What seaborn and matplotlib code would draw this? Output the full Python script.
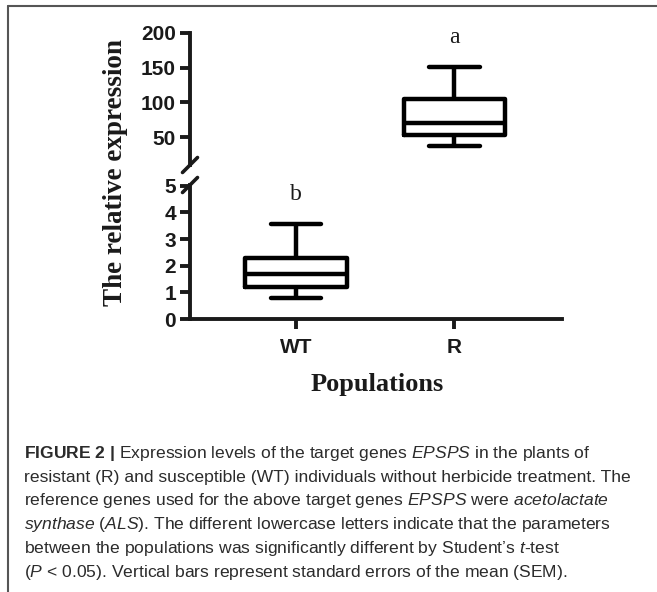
import pandas as pd
import seaborn as sns
import matplotlib
matplotlib.use("Agg")
import matplotlib.pyplot as plt
from matplotlib.lines import Line2D

# values (box = min, Q1, median, Q3, max)
populations = ["WT", "R"]
wt_expression = [0.79, 1.20, 1.69, 2.29, 3.57]
r_expression = [37, 53, 70.5, 105, 151]
upper_ticks = [50, 100, 150, 200]
lower_ticks = [0, 1, 2, 3, 4, 5]
letters = ["b", "a"]
letter_y = [4.66, 193]

caption_lines = [
    r"$\bf{FIGURE\ 2\ |}$ Expression levels of the target genes $\it{EPSPS}$ in the plants of",
    "resistant (R) and susceptible (WT) individuals without herbicide treatment. The",
    r"reference genes used for the above target genes $\it{EPSPS}$ were $\it{acetolactate}$",
    r"$\it{synthase}$ ($\it{ALS}$). The different lowercase letters indicate that the parameters",
    r"between the populations was significantly different by Student’s $\it{t}$-test",
    r"($\it{P}$ < 0.05). Vertical bars represent standard errors of the mean (SEM).",
]

df = pd.DataFrame({
    "population": ["WT"] * len(wt_expression) + ["R"] * len(r_expression),
    "expression": wt_expression + r_expression,
})

sns.set_style("ticks")
plt.rcParams["font.family"] = ["Liberation Sans", "DejaVu Sans"]
plt.rcParams["mathtext.fontset"] = "custom"
plt.rcParams["mathtext.rm"] = "Liberation Sans"
plt.rcParams["mathtext.it"] = "Liberation Sans:italic"
plt.rcParams["mathtext.bf"] = "Liberation Sans:bold"

W, H = 657, 592
fig = plt.figure(figsize=(W / 100, H / 100), dpi=100)

# broken y axis: two stacked axes
ax_top = fig.add_axes([0.2892, 0.7213, 0.5662, 0.2230])
ax_bot = fig.add_axes([0.2892, 0.4611, 0.5662, 0.2264])

for ax in (ax_top, ax_bot):
    sns.boxplot(data=df, x="population", y="expression", order=populations,
                whis=(0, 100), width=0.64, fill=False, color="black",
                linewidth=3.2, ax=ax)
    ax.set_xlim(-0.67, 1.68)
    ax.set_xlabel("")
    ax.set_ylabel("")
    for s in ("top", "right"):
        ax.spines[s].set_visible(False)
    for s in ("left", "bottom"):
        ax.spines[s].set_linewidth(2.8)
        ax.spines[s].set_color("#1a1a1a")
    ax.tick_params(axis="y", length=7, width=2.8, pad=3, colors="#1a1a1a")
    ax.patch.set_alpha(0)

ax_top.set_ylim(10, 200)
ax_top.set_yticks(upper_ticks)
ax_top.spines["bottom"].set_visible(False)
ax_top.tick_params(axis="x", bottom=False, labelbottom=False)

ax_bot.set_ylim(0, 5.03)
ax_bot.set_yticks(lower_ticks)
ax_bot.tick_params(axis="x", length=7, width=2.8, pad=7, colors="#1a1a1a")

for ax in (ax_top, ax_bot):
    for lab in ax.get_yticklabels() + ax.get_xticklabels():
        lab.set_fontsize(15)
        lab.set_fontweight("bold")
        lab.set_color("#1a1a1a")

# significance letters
ax_bot.text(0, letter_y[0], letters[0], ha="center", va="center",
            family="Liberation Serif", fontsize=17, color="#1a1a1a")
ax_top.text(1, letter_y[1], letters[1], ha="center", va="center",
            family="Liberation Serif", fontsize=17, color="#1a1a1a")

# break marks
d = 7.5
for ax, yfrac in ((ax_top, ax_top.get_position().y0), (ax_bot, ax_bot.get_position().y1)):
    x0 = ax.get_position().x0
    fig.add_artist(Line2D([x0 - d / W, x0 + d / W], [yfrac - d / H, yfrac + d / H],
                          transform=fig.transFigure, color="#1a1a1a", lw=2.6))

fig.text(0.176, 0.7086, "The relative expression", rotation=90, ha="center",
         va="center", family="Liberation Serif", fontweight="bold", fontsize=19.5,
         color="#1a1a1a")
fig.text(0.574, 1 - 391 / H, "Populations", ha="center", va="baseline",
         family="Liberation Serif", fontweight="bold", fontsize=19, color="#1a1a1a")

# caption
for i, line in enumerate(caption_lines):
    fig.text(24 / W, 1 - (458 + i * 23.7) / H, line, ha="left", va="baseline",
             fontsize=12.6, color="#2b2b2b")

# outer frame (open on right and bottom)
fig.add_artist(Line2D([8 / W, 1], [1 - 6 / H, 1 - 6 / H], transform=fig.transFigure,
                      color="#555555", lw=1.5))
fig.add_artist(Line2D([8 / W, 8 / W], [0, 1 - 6 / H], transform=fig.transFigure,
                      color="#555555", lw=1.5))

fig.savefig("out.png", dpi=100)
